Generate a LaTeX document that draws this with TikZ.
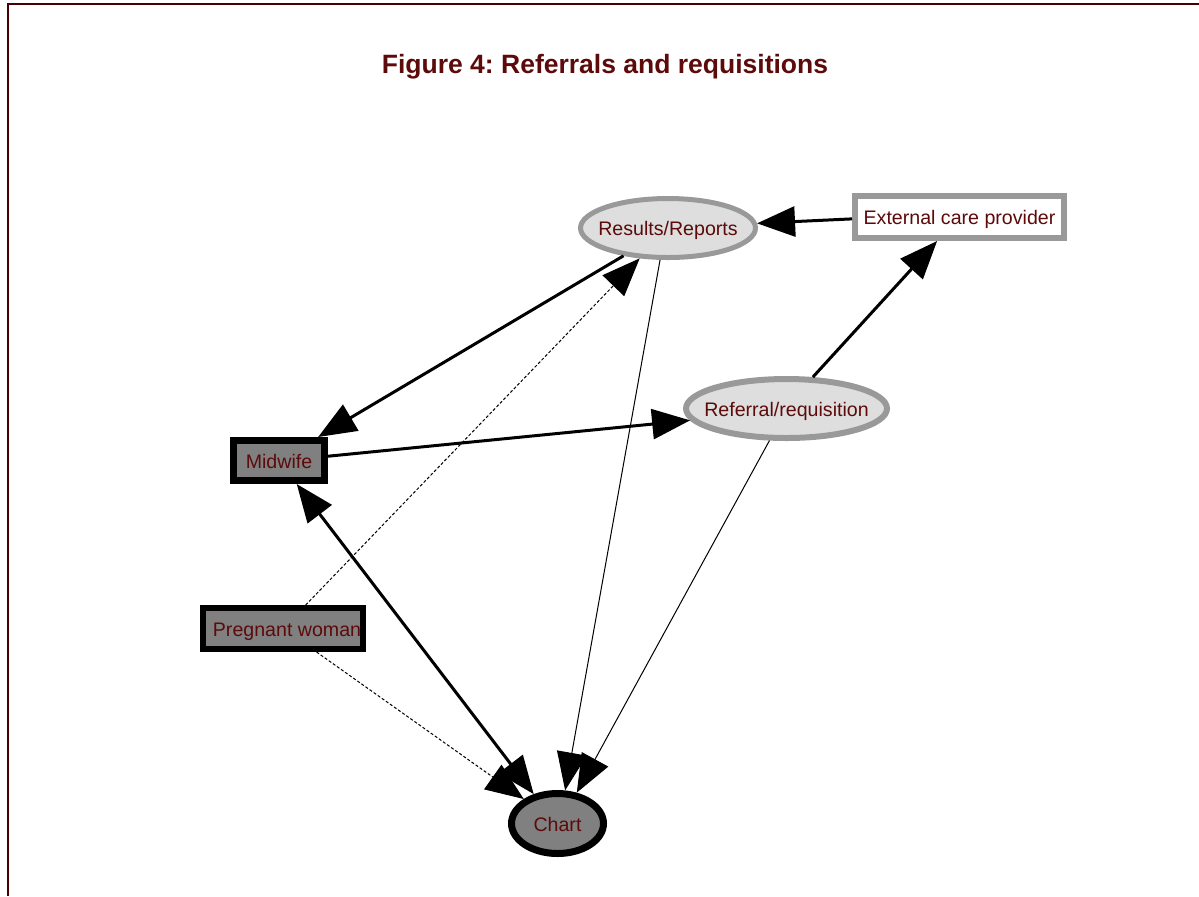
\documentclass[tikz,border=0pt]{standalone}
\usepackage{fontspec}
\setmainfont{Liberation Sans}
\usetikzlibrary{arrows.meta,shapes.geometric}
\frenchspacing

\definecolor{framered}{HTML}{4A0000}
\definecolor{txtred}{HTML}{5C0A0A}
\definecolor{ringgray}{HTML}{999999}
\definecolor{lightfill}{HTML}{DEDEDE}
\definecolor{darkfill}{HTML}{808080}

% text that does not widen its node
\newcommand\ctext[1]{\makebox[0pt][c]{#1}}

\begin{document}
\begin{tikzpicture}[x=0.5pt,y=-0.5pt,
  lbl/.style={font=\fontsize{9.8pt}{11pt}\selectfont, text=txtred, inner sep=0pt,
              text height=7.8pt, text depth=0pt},
  softell/.style={lbl, ellipse, draw=ringgray, fill=lightfill},
  softbox/.style={lbl, rectangle, draw=ringgray, fill=white},
  hardbox/.style={lbl, rectangle, draw=black, fill=darkfill},
  hardell/.style={lbl, ellipse, draw=black, fill=darkfill},
  bigtip/.tip={Triangle[length=19pt,width=15pt]},
  thickedge/.style={line width=1.5pt, -bigtip},
  thinedge/.style={line width=0.5pt, -bigtip},
  dotedge/.style={line width=0.5pt, dash pattern=on 1.5pt off 1pt, -bigtip}]

\useasboundingbox (0,0) rectangle (1199,896);

% page frame (left and top edges)
\draw[framered, line width=1pt] (8,896) -- (8,4) -- (1199,4);

\node[font=\fontsize{13.25pt}{16pt}\selectfont\bfseries, text=txtred, anchor=base] (title) at (605,73) {Figure 4: Referrals and requisitions};

% nodes
\node[softell, line width=2.5pt, minimum width=87.5pt, minimum height=29.5pt] (res) at (668,228) {\ctext{Results/Reports}};
\node[softbox, line width=3pt, minimum width=104.5pt, minimum height=21pt] (ext) at (959.5,217) {\ctext{External care provider}};
\node[softell, line width=3pt, minimum width=100.5pt, minimum height=29.5pt] (ref) at (786.5,408.5) {\ctext{Referral/requisition}};
\node[hardbox, line width=3.5pt, minimum width=45.5pt, minimum height=20pt] (mid) at (279,460.5) {\ctext{Midwife}};
\node[hardbox, line width=3pt, minimum width=80pt, minimum height=20.5pt] (pw) at (283,628.5) {\ctext{\hspace*{4pt}Pregnant woman}};
\node[hardell, line width=3.5pt, minimum width=46pt, minimum height=30pt] (chart) at (557.5,823.5) {\ctext{Chart}};

% connectors
\draw[thickedge] (ext.181) -- (res.3);
\draw[thickedge] (res.212) -- (mid.31);
\draw[thickedge] (mid.5) -- (ref.187);
\draw[thickedge] (ref.50) -- (ext.227);
\draw[thickedge, bigtip-bigtip] (mid.-53) -- (chart.129);
\draw[dotedge] (pw.46) -- (res.227);
\draw[dotedge] (pw.-35) -- (chart.144);
\draw[thinedge] (res.256) -- (chart.77);
\draw[thinedge] (ref.242) -- (chart.58);

\end{tikzpicture}
\end{document}
